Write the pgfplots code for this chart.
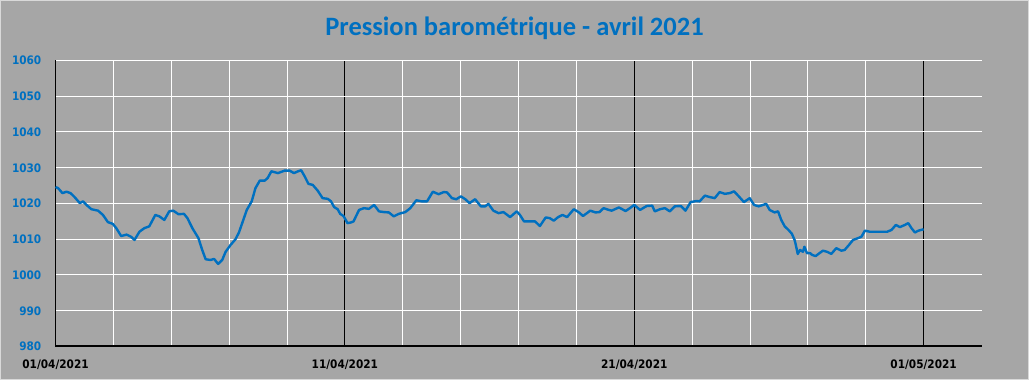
\documentclass[border=0pt]{standalone}
\usepackage{fontspec}
\usepackage{pgfplots}
\pgfplotsset{compat=1.18}
\newfontfamily\titlefont{Carlito}
\newfontfamily\tickfont{DejaVu Sans Condensed}
\definecolor{bg}{RGB}{166,166,166}
\definecolor{frame}{RGB}{217,217,217}
\definecolor{xlblue}{RGB}{0,112,192}
\begin{document}
\begin{tikzpicture}
\path[use as bounding box] (-55.5pt,-33.5pt) rectangle (973.5pt,346.5pt);
\fill[bg] (-55.5pt,-33.5pt) rectangle (973.5pt,346.5pt);
\draw[frame,line width=1pt] (-55pt,-33pt) rectangle (973pt,346pt);
\node[text=xlblue,font=\titlefont\bfseries\fontsize{26.5}{30}\selectfont] at (459pt,318.5pt) {Pression barométrique - avril 2021};
\begin{axis}[
  at={(0pt,0pt)}, anchor=south west,
  scale only axis, width=926pt, height=286pt,
  xmin=0, xmax=32, ymin=980, ymax=1060,
  axis x line*=bottom, axis y line*=left,
  x axis line style={-,black,line width=2pt},
  y axis line style={-,black,line width=1.3pt},
  xtick={0,10,20,30},
  xticklabels={01/04/2021,11/04/2021,21/04/2021,01/05/2021},
  minor xtick={2,4,6,8,12,14,16,18,22,24,26,28},
  ytick={980,990,1000,1010,1020,1030,1040,1050,1060},
  yticklabels={980,990,1000,1010,1020,1030,1040,1050,1060},
  major tick length=0pt, minor tick length=0pt,
  xmajorgrids, xminorgrids, ymajorgrids,
  major x grid style={black,line width=1pt},
  minor x grid style={white,line width=1pt},
  major y grid style={white,line width=1pt},
  xticklabel style={font=\tickfont\bfseries\fontsize{11.7}{13}\selectfont, text=black, anchor=north, inner sep=0pt, yshift=-13.5pt},
  yticklabel style={font=\tickfont\bfseries\fontsize{11.7}{13}\selectfont, text=xlblue, anchor=east, inner sep=0pt, xshift=-14pt},
  clip=false,
]
\addplot[xlblue, line width=2.4pt, line join=round] table {
x y
0.00 1024.6
0.09 1024.3
0.24 1022.9
0.38 1023.3
0.52 1022.9
0.66 1021.8
0.84 1020.1
0.95 1020.6
1.07 1019.6
1.24 1018.4
1.47 1018.0
1.64 1016.8
1.81 1014.8
1.98 1014.3
2.10 1013.1
2.27 1010.9
2.46 1011.3
2.61 1010.7
2.73 1009.8
2.90 1012.1
3.07 1013.1
3.24 1013.6
3.45 1016.8
3.59 1016.4
3.76 1015.4
3.93 1017.8
4.07 1018.0
4.25 1017.0
4.44 1017.1
4.56 1015.9
4.73 1013.1
4.94 1010.3
5.07 1007.0
5.19 1004.4
5.36 1004.2
5.48 1004.5
5.62 1003.1
5.76 1004.2
5.88 1006.5
6.05 1008.4
6.22 1010.0
6.34 1011.9
6.49 1015.4
6.61 1018.2
6.78 1020.6
6.91 1024.3
7.06 1026.4
7.23 1026.4
7.33 1027.1
7.46 1029.0
7.69 1028.5
7.92 1029.2
8.09 1029.2
8.24 1028.5
8.38 1029.0
8.49 1029.3
8.61 1027.6
8.74 1025.5
8.89 1025.2
9.06 1023.6
9.23 1021.5
9.41 1021.3
9.52 1020.6
9.63 1019.0
9.75 1018.4
9.84 1017.1
9.95 1016.5
10.03 1015.4
10.09 1014.5
10.21 1014.7
10.30 1015.0
10.49 1018.2
10.66 1018.7
10.83 1018.5
11.01 1019.6
11.18 1017.8
11.35 1017.6
11.52 1017.5
11.69 1016.4
11.86 1017.1
12.09 1017.6
12.26 1018.7
12.47 1020.9
12.66 1020.6
12.84 1020.6
13.04 1023.3
13.24 1022.6
13.42 1023.2
13.53 1023.1
13.70 1021.5
13.85 1021.2
14.01 1022.0
14.16 1021.2
14.31 1020.1
14.50 1021.2
14.70 1019.2
14.85 1019.2
14.96 1019.9
15.13 1018.0
15.31 1017.3
15.48 1017.6
15.71 1016.2
15.94 1017.8
16.05 1016.8
16.19 1015.0
16.39 1015.0
16.57 1015.0
16.74 1013.7
16.94 1016.1
17.08 1015.9
17.22 1015.2
17.37 1016.2
17.52 1016.8
17.68 1016.2
17.91 1018.4
18.09 1017.5
18.23 1016.5
18.48 1018.0
18.66 1017.5
18.80 1017.6
18.94 1018.7
19.12 1018.2
19.22 1018.0
19.47 1018.9
19.70 1017.9
19.85 1018.7
20.00 1019.6
20.20 1018.2
20.43 1019.3
20.62 1019.4
20.71 1017.8
20.89 1018.4
21.06 1018.7
21.23 1017.8
21.40 1019.2
21.61 1019.3
21.77 1018.0
21.95 1020.4
22.15 1020.7
22.26 1020.6
22.44 1022.2
22.61 1021.8
22.78 1021.5
22.95 1023.2
23.13 1022.7
23.30 1022.9
23.45 1023.4
23.59 1022.2
23.79 1020.4
23.99 1021.5
24.14 1019.6
24.30 1019.2
24.45 1019.6
24.56 1019.9
24.68 1018.2
24.85 1017.5
24.97 1017.8
25.08 1015.4
25.20 1013.6
25.33 1012.6
25.45 1011.5
25.54 1009.8
25.57 1008.9
25.65 1005.9
25.73 1007.0
25.83 1006.5
25.88 1007.9
25.97 1006.1
26.08 1006.1
26.15 1005.6
26.27 1005.3
26.40 1006.1
26.52 1006.8
26.66 1006.5
26.81 1005.9
26.98 1007.5
27.16 1006.8
27.27 1007.0
27.42 1008.4
27.56 1009.8
27.73 1010.3
27.85 1010.7
27.97 1012.4
28.14 1012.1
28.37 1012.1
28.54 1012.1
28.74 1012.1
28.89 1012.6
29.04 1014.0
29.18 1013.4
29.35 1014.0
29.47 1014.5
29.58 1013.1
29.70 1011.9
29.82 1012.4
30.00 1012.8
};
\end{axis}
\end{tikzpicture}
\end{document}
